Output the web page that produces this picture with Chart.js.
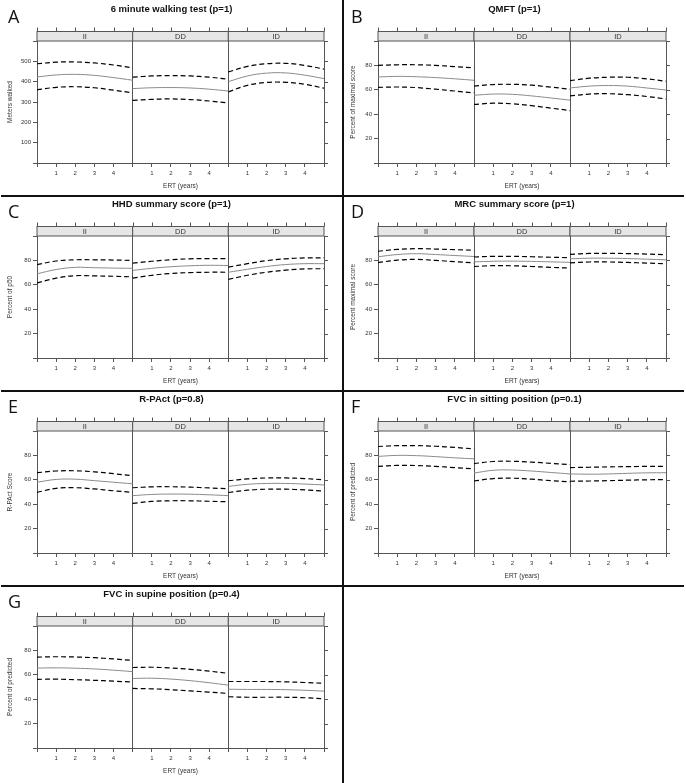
<!DOCTYPE html>
<html>
<head>
<meta charset="utf-8">
<script src="https://cdn.jsdelivr.net/npm/chart.js@4.4.1/dist/chart.umd.min.js"></script>
<style>
  html, body { margin: 0; padding: 0; background: #fff; }
  #page { position: relative; width: 686px; height: 783px; overflow: hidden; font-family: "Liberation Sans", Arial, sans-serif; }
  .panel { position: absolute; width: 343px; height: 195px; }
  .panel canvas { position: absolute; left: 0; top: 0; }
  .title { position: absolute; left: 0; width: 343px; top: 3px; text-align: center; font-weight: bold; font-size: 9.5px; line-height: 1; color: #111; }
  .letter { position: absolute; left: 8px; top: 6px; font-family: "Open Sans", sans-serif; font-size: 18px; line-height: 1; color: #111; }
  .rule { position: absolute; background: #111; }
</style>
</head>
<body>
<div id="page"></div>
<script>
// x = years of ERT inside each facet, three facets per panel
const years = [0, 1, 2, 3, 4, 5];
const facets = ['II', 'DD', 'ID'];
const facetSpan = 5;

// each array: one row per facet (II, DD, ID), one value per year
const walkUpper = [[488, 496, 497, 492, 482, 468], [422, 428, 430, 428, 422, 412], [448, 475, 488, 490, 480, 462]];
const walkMean  = [[423, 433, 436, 431, 420, 407], [366, 370, 371, 369, 363, 354], [400, 428, 442, 443, 432, 415]];
const walkLower = [[360, 372, 375, 370, 358, 345], [308, 313, 315, 312, 305, 295], [350, 382, 396, 397, 387, 368]];

const qmftUpper = [[80, 80.5, 80.5, 80, 79, 78], [63, 64.3, 64.5, 63.8, 62.2, 60.5], [67.5, 69.5, 70.3, 70.3, 69, 67]];
const qmftMean  = [[70.5, 71, 70.7, 70, 69, 67.8], [55.5, 56.5, 56.3, 55, 53.3, 51.5], [61.5, 63, 63.5, 63, 61.5, 59.8]];
const qmftLower = [[62, 62.3, 61.8, 60.5, 59, 57.5], [48, 49, 48.5, 47, 45, 43], [55, 56.5, 56.8, 56, 54.5, 52.5]];

const hhdUpper = [[76.5, 79.5, 80.5, 80.5, 80.3, 80], [77.8, 79.3, 80.5, 81.3, 81.5, 81.5], [74.5, 77.3, 79.8, 81.3, 82, 82]];
const hhdMean  = [[69, 72.5, 74.3, 74, 73.7, 73.5], [71.8, 73.5, 74.8, 75.6, 76, 75.8], [70.3, 72.7, 75, 76.6, 77.3, 77.3]];
const hhdLower = [[61.5, 65.5, 67.5, 67.3, 67, 66.5], [65.5, 67.8, 69.3, 70, 70.3, 70.3], [64.5, 67.8, 70.3, 72, 73, 73.2]];

const mrcUpper = [[87.5, 89, 89.6, 89.3, 88.8, 88.3], [82.8, 83.3, 83.3, 83, 82.6, 82.2], [85, 85.7, 85.8, 85.6, 85.2, 84.7]];
const mrcMean  = [[83, 84.8, 85.5, 84.8, 84, 83.2], [78.8, 79.3, 79.4, 79.2, 78.8, 78.4], [81.3, 81.8, 81.8, 81.5, 81, 80.5]];
const mrcLower = [[78.2, 80.2, 80.8, 80, 79, 78], [75, 75.7, 75.6, 75, 74.3, 73.7], [78, 78.7, 78.7, 78.3, 77.8, 77.2]];

const rpactUpper = [[65.8, 67.2, 67.4, 66.5, 65, 63.4], [53.5, 54.2, 54.3, 54, 53.3, 52.7], [59.2, 60.7, 61.5, 61.5, 61, 60]];
const rpactMean  = [[58, 60.3, 60.5, 59.3, 58, 56.7], [47, 48, 48.3, 48.2, 47.7, 47], [54.6, 56.3, 57, 57, 56.5, 55.8]];
const rpactLower = [[49.7, 53, 53.5, 52.5, 51, 49.7], [40.7, 42.3, 42.8, 42.8, 42.4, 42], [49.6, 51.5, 52.3, 52.3, 51.7, 50.8]];

const fvcSitUpper = [[87.3, 88, 88, 87.5, 86.5, 85.4], [73.3, 75, 75.2, 74.5, 73.5, 72.4], [70, 70.3, 70.6, 70.8, 71, 71]];
const fvcSitMean  = [[79.2, 80, 79.8, 79, 78, 77.2], [65.5, 67.8, 68, 67.2, 66, 64.8], [64.8, 64.6, 64.8, 65.3, 65.7, 65.8]];
const fvcSitLower = [[71, 71.8, 71.7, 71, 70, 69], [59, 61, 61.3, 60.5, 59.3, 58.3], [58.8, 59, 59.3, 59.7, 60, 60.2]];

const fvcSupUpper = [[74.5, 74.8, 74.6, 74, 73, 71.8], [66, 66.2, 65.6, 64.5, 63, 61.2], [54.5, 54.5, 54.5, 54.2, 53.7, 53]];
const fvcSupMean  = [[65.5, 65.7, 65.4, 64.8, 63.8, 62.6], [57, 57.2, 56.5, 55.2, 53.5, 51.5], [48.2, 48, 48, 47.8, 47.3, 46.6]];
const fvcSupLower = [[56.3, 56.4, 56, 55.5, 54.8, 54], [48.8, 48.5, 47.8, 46.8, 45.8, 44.7], [42, 41.6, 41.6, 41.6, 41.2, 40.4]];

const panels = [
  { letter: 'A', title: '6 minute walking test (p=1)', yLabel: 'Meters walked', yMax: 600, yStep: 100, upper: walkUpper, mean: walkMean, lower: walkLower },
  { letter: 'B', title: 'QMFT (p=1)', yLabel: 'Percent of maximal score', yMax: 100, yStep: 20, upper: qmftUpper, mean: qmftMean, lower: qmftLower },
  { letter: 'C', title: 'HHD summary score (p=1)', yLabel: 'Percent of p50', yMax: 100, yStep: 20, upper: hhdUpper, mean: hhdMean, lower: hhdLower },
  { letter: 'D', title: 'MRC summary score (p=1)', yLabel: 'Percent maximal score', yMax: 100, yStep: 20, upper: mrcUpper, mean: mrcMean, lower: mrcLower },
  { letter: 'E', title: 'R-PAct (p=0.8)', yLabel: 'R-PAct Score', yMax: 100, yStep: 20, upper: rpactUpper, mean: rpactMean, lower: rpactLower },
  { letter: 'F', title: 'FVC in sitting position (p=0.1)', yLabel: 'Percent of predicted', yMax: 100, yStep: 20, upper: fvcSitUpper, mean: fvcSitMean, lower: fvcSitLower },
  { letter: 'G', title: 'FVC in supine position (p=0.4)', yLabel: 'Percent of predicted', yMax: 100, yStep: 20, upper: fvcSupUpper, mean: fvcSupMean, lower: fvcSupLower }
];

const rowTops = [1, 196, 391, 586];
const colLefts = [0, 343];
const axisGray = '#555';
const textGray = '#333';

Chart.defaults.font.family = '"Liberation Sans", Arial, sans-serif';

// lattice-like strip with facet names, ticks above the strip and on the right side
const latticePlugin = {
  id: 'lattice',
  afterDraw(chart) {
    const { ctx, chartArea: a, scales: { x, y } } = chart;
    const stripH = 9.5;
    const top = a.top - stripH;
    ctx.save();
    ctx.lineWidth = 1;
    ctx.strokeStyle = axisGray;
    facets.forEach((name, k) => {
      const x0 = x.getPixelForValue(k * facetSpan);
      const x1 = x.getPixelForValue((k + 1) * facetSpan);
      ctx.fillStyle = '#e6e6e6';
      ctx.fillRect(x0, top, x1 - x0, stripH);
      ctx.strokeRect(x0, top, x1 - x0, stripH);
      ctx.fillStyle = textGray;
      ctx.font = '7.5px "Liberation Sans", Arial, sans-serif';
      ctx.textAlign = 'center';
      ctx.textBaseline = 'middle';
      ctx.fillText(name, (x0 + x1) / 2, top + stripH / 2 + 0.5);
    });
    ctx.beginPath();
    x.ticks.forEach(t => {
      const px = Math.round(x.getPixelForValue(t.value)) + 0.5;
      ctx.moveTo(px, top - 4);
      ctx.lineTo(px, top);
    });
    y.ticks.forEach(t => {
      const py = Math.round(y.getPixelForValue(t.value)) + 0.5;
      ctx.moveTo(a.right, py);
      ctx.lineTo(a.right + 4, py);
    });
    ctx.stroke();
    ctx.restore();
  }
};

function buildDatasets(p) {
  const ds = [];
  facets.forEach((name, k) => {
    [[p.upper, true], [p.mean, false], [p.lower, true]].forEach(([arr, dashed]) => {
      ds.push({
        data: years.map((t, i) => ({ x: k * facetSpan + t, y: arr[k][i] })),
        borderColor: dashed ? '#000' : '#8a8a8a',
        borderWidth: dashed ? 1.2 : 1,
        borderDash: dashed ? [5, 3] : [],
        tension: 0.4,
        pointRadius: 0,
        fill: false
      });
    });
  });
  return ds;
}

const page = document.getElementById('page');

panels.forEach((p, idx) => {
  const col = idx % 2;
  const row = Math.floor(idx / 2);
  const box = document.createElement('div');
  box.className = 'panel';
  box.style.left = colLefts[col] + 'px';
  box.style.top = rowTops[row] + 'px';
  box.innerHTML = '<canvas width="343" height="195"></canvas>' +
    '<div class="title">' + p.title + '</div>' +
    '<div class="letter">' + p.letter + '</div>';
  page.appendChild(box);

  const leftW = col === 0 ? 37 : 35;
  const rightPad = col === 0 ? 19 : 20;

  new Chart(box.querySelector('canvas'), {
    type: 'line',
    data: { datasets: buildDatasets(p) },
    options: {
      responsive: false,
      animation: false,
      devicePixelRatio: 1,
      layout: { padding: { left: 0, right: rightPad, top: 40, bottom: 0 } },
      plugins: { legend: { display: false }, tooltip: { enabled: false } },
      scales: {
        x: {
          type: 'linear',
          min: 0,
          max: facetSpan * facets.length,
          afterFit: s => { s.height = 33; },
          ticks: {
            stepSize: 1,
            autoSkip: false,
            maxRotation: 0,
            padding: 3,
            color: textGray,
            font: { size: 6 },
            callback: v => {
              const r = v % facetSpan;
              return r === 0 ? '' : String(r);
            }
          },
          grid: {
            color: c => (c.tick && c.tick.value % facetSpan === 0) ? axisGray : 'rgba(0,0,0,0)',
            tickColor: axisGray,
            tickLength: 4,
            lineWidth: 1
          },
          border: { color: axisGray },
          title: { display: true, text: 'ERT (years)', color: textGray, font: { size: 6.5 }, padding: { top: 0, bottom: 6 } }
        },
        y: {
          min: 0,
          max: p.yMax,
          afterFit: s => { s.width = leftW; },
          ticks: {
            stepSize: p.yStep,
            padding: 2,
            color: textGray,
            font: { size: 6 },
            callback: v => (v === 0 || v === p.yMax) ? '' : String(v)
          },
          grid: { drawOnChartArea: false, tickColor: axisGray, tickLength: 4 },
          border: { color: axisGray },
          title: { display: true, text: p.yLabel, color: textGray, font: { size: 6.5 }, padding: { top: 6, bottom: 0 } }
        }
      }
    },
    plugins: [latticePlugin]
  });
});

// black frame lines between the panels
function rule(left, top, width, height) {
  const d = document.createElement('div');
  d.className = 'rule';
  d.style.left = left + 'px';
  d.style.top = top + 'px';
  d.style.width = width + 'px';
  d.style.height = height + 'px';
  page.appendChild(d);
}
rule(342, 0, 2, 783);
[195, 390, 585].forEach(t => {
  rule(1, t, 341, 2);
  rule(344, t, 340, 2);
});
</script>
</body>
</html>
